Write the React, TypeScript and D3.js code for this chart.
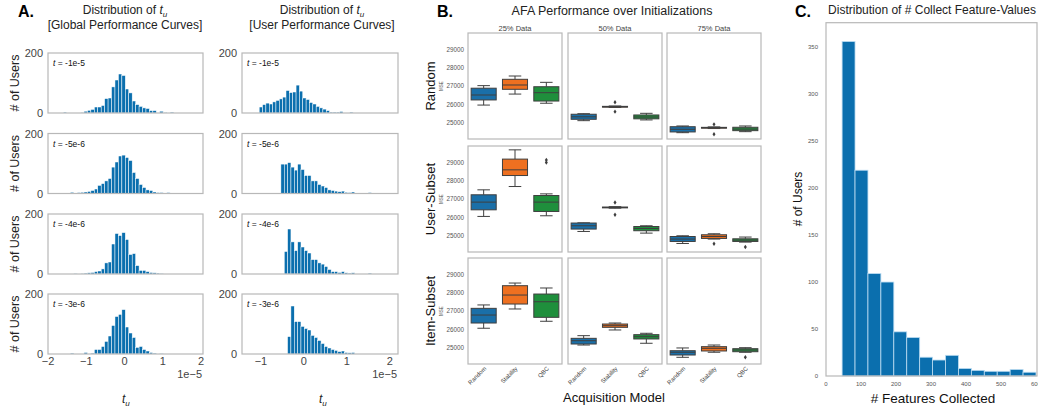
import * as React from "react";
import { range, scaleBand, scaleLinear } from "d3";

// ---- Panel A: distribution of t_u ----
const tLabels = ["-1e-5", "-5e-6", "-4e-6", "-3e-6"];

const globalStart = -1.6;
const globalBin = 0.09;
const globalCounts = [
  [3, 0, 0, 0, 0, 2, 6, 9, 12, 20, 20, 25, 48, 50, 87, 110, 130, 125, 80, 67, 40, 28, 22, 17, 15, 8, 8, 0, 6, 2, 0, 3],
  [0, 0, 4, 0, 3, 4, 5, 7, 10, 15, 27, 33, 42, 50, 88, 105, 125, 128, 120, 110, 70, 50, 30, 20, 12, 10, 5, 3, 3, 0, 3],
  [0, 0, 0, 2, 0, 2, 3, 4, 5, 8, 10, 17, 37, 40, 100, 135, 128, 138, 115, 65, 68, 28, 12, 12, 8, 5, 4, 3, 2],
  [0, 0, 3, 0, 0, 0, 5, 0, 3, 15, 15, 25, 42, 60, 95, 125, 132, 148, 90, 70, 55, 22, 25, 15, 10, 5, 3, 0, 2],
];

const userStarts = [-1.04, -0.535, -0.457, -0.38];
const userBin = 0.078;
const userCounts = [
  [20, 28, 33, 30, 37, 42, 47, 53, 75, 68, 70, 93, 73, 50, 45, 35, 30, 22, 17, 13, 8, 3, 3, 3, 5, 0, 0, 3],
  [98, 98, 103, 88, 78, 98, 80, 60, 60, 42, 42, 30, 25, 20, 12, 10, 8, 6, 8, 4, 3, 5, 0, 0, 0, 0, 3],
  [75, 150, 107, 78, 107, 90, 78, 70, 48, 48, 37, 33, 25, 15, 8, 8, 5, 8, 4, 3, 4, 0, 0, 0, 0, 3],
  [58, 160, 108, 108, 92, 85, 80, 62, 55, 45, 35, 25, 20, 15, 12, 8, 10, 5, 4, 5],
];

const globalTicks = [-2, -1, 0, 1, 2];
const userTicks = [-1, 0, 1, 2];

// ---- Panel B: AFA performance (lo, q1, median, q3, hi) ----
const initNames = ["Random", "User-Subset", "Item-Subset"];
const dataLabels = ["25% Data", "50% Data", "75% Data"];
const models = ["Random", "Stability", "QBC"];
const mseTicks = [25000, 26000, 27000, 28000, 29000];

const randomInitStats = [
  [[25960, 26240, 26510, 26880, 27020], [26560, 26820, 27055, 27365, 27545], [26060, 26180, 26635, 26960, 27200]],
  [[25110, 25185, 25320, 25460, 25490], [25830, 25850, 25870, 25890, 25910], [25150, 25210, 25310, 25420, 25510]],
  [[24455, 24495, 24640, 24780, 24820], [24680, 24700, 24725, 24745, 24770], [24510, 24565, 24650, 24750, 24820]],
];
const randomInitOutliers = [
  [[], [], []],
  [[], [26110, 25600], []],
  [[], [24910, 24370], []],
];

const userSubsetStats = [
  [[26050, 26410, 26830, 27230, 27500], [27680, 28280, 28590, 29175, 29680], [26085, 26320, 26830, 27190, 27280]],
  [[25230, 25360, 25540, 25690, 25700], [26500, 26520, 26540, 26560, 26580], [25140, 25270, 25390, 25500, 25540]],
  [[24575, 24685, 24815, 24955, 24995], [24815, 24850, 24955, 25050, 25105], [24650, 24685, 24760, 24830, 24925]],
];
const userSubsetOutliers = [
  [[], [], [28990, 29130]],
  [[], [26810, 26140], []],
  [[], [24560], [24380]],
];

const itemSubsetStats = [
  [[26060, 26345, 26780, 27145, 27330], [27110, 27380, 27870, 28380, 28525], [26440, 26655, 27505, 27925, 28255]],
  [[25145, 25200, 25380, 25510, 25655], [25965, 26110, 26200, 26290, 26345], [25240, 25475, 25600, 25710, 25785]],
  [[24475, 24600, 24750, 24835, 24985], [24750, 24820, 24965, 25055, 25145], [24750, 24780, 24875, 24945, 25000]],
];
const itemSubsetOutliers = [
  [[], [], []],
  [[], [], []],
  [[], [], [24475]],
];

// ---- Panel C: features collected ----
const featureCounts = [356, 219, 109, 100, 47, 41, 20, 17, 22, 8, 6, 5, 5, 7, 4];
const featureMin = 46;
const featureMax = 600;
const featureXTicks = [0, 100, 200, 300, 400, 500, 600];
const featureYTicks = [0, 50, 100, 150, 200, 250, 300, 350];

const FONT = "'Liberation Sans', Arial, sans-serif";
const HIST_BLUE = "#0b6fae";
const BOX_COLORS = ["#1a6fa8", "#ee7020", "#1f8f3c"];
const FRAME = "#b8b8b8";
const TICK = "#444";
const BOX_EDGE = "#3f3f3f";
const MINUS = "\u2212";

const PanelA = () => {
  const tops = [53, 133.5, 214, 294];
  const h = 60;
  const cols = [
    { left: 48, right: 203, domain: [-2.0, 2.05], ticks: globalTicks, title: "[Global Performance Curves]", center: 125 },
    { left: 242, right: 398, domain: [-1.44, 2.19], ticks: userTicks, title: "[User Performance Curves]", center: 322 },
  ];

  return (
    <g>
      <text x={18} y={17} fontSize={16} fontWeight="bold">A.</text>
      {cols.map((c, ci) => {
        const xs = scaleLinear().domain(c.domain).range([c.left, c.right]);
        return (
          <g key={ci}>
            <text x={c.center} y={14} fontSize={12} textAnchor="middle" fill="#222">
              Distribution of <tspan fontStyle="italic">t</tspan>
              <tspan fontStyle="italic" fontSize={8} dy={3}>u</tspan>
            </text>
            <text x={c.center} y={29} fontSize={12} textAnchor="middle" fill="#222">{c.title}</text>
            {tops.map((top, ri) => {
              const ys = scaleLinear().domain([0, 200]).range([top + h, top]);
              const counts = ci === 0 ? globalCounts[ri] : userCounts[ri];
              const start = ci === 0 ? globalStart : userStarts[ri];
              const bin = ci === 0 ? globalBin : userBin;
              return (
                <g key={ri}>
                  {counts.map((v, i) => {
                    if (v === 0) return null;
                    const x0 = xs(start + i * bin);
                    const x1 = xs(start + (i + 1) * bin);
                    return (
                      <rect key={i} x={x0} y={ys(v)} width={x1 - x0} height={ys(0) - ys(v)}
                        fill={HIST_BLUE} stroke="#ffffff" strokeWidth={0.5} />
                    );
                  })}
                  <rect x={c.left} y={top} width={c.right - c.left} height={h} fill="none" stroke={FRAME} strokeWidth={1.2} />
                  <text x={c.left - 5} y={ys(200) + 4} fontSize={11} textAnchor="end" fill={TICK}>200</text>
                  <text x={c.left - 5} y={ys(0) + 4} fontSize={11} textAnchor="end" fill={TICK}>0</text>
                  <text x={c.left + 5} y={top + 13} fontSize={8.5} fill="#111">
                    <tspan fontStyle="italic">t</tspan> = {tLabels[ri]}
                  </text>
                  {ci === 0 && (
                    <text transform={`translate(15,${top + h / 2}) rotate(-90)`} fontSize={12.5}
                      textAnchor="middle" dominantBaseline="central" fill="#222"># of Users</text>
                  )}
                </g>
              );
            })}
            {c.ticks.map((t) => (
              <text key={t} x={xs(t)} y={tops[3] + h + 11} fontSize={11} textAnchor="middle" fill={TICK}>
                {t < 0 ? `${MINUS}${-t}` : t}
              </text>
            ))}
            <text x={c.right - 1} y={378} fontSize={11} textAnchor="end" fill={TICK}>{`1e${MINUS}5`}</text>
            <text x={c.center - 3} y={403} fontSize={12} fill="#222" fontStyle="italic">
              t<tspan fontSize={8} dy={3}>u</tspan>
            </text>
          </g>
        );
      })}
    </g>
  );
};

const PanelB = () => {
  const colLefts = [468, 568, 667];
  const colW = 94;
  const rowTops = [33, 146, 258];
  const rowH = 106;
  const allStats = [randomInitStats, userSubsetStats, itemSubsetStats];
  const allOutliers = [randomInitOutliers, userSubsetOutliers, itemSubsetOutliers];

  return (
    <g>
      <text x={437} y={17} fontSize={16} fontWeight="bold">B.</text>
      <text x={612} y={15} fontSize={12.5} textAnchor="middle" fill="#222">AFA Performance over Initializations</text>
      {dataLabels.map((d, ci) => (
        <text key={d} x={colLefts[ci] + colW / 2} y={31} fontSize={7.5} textAnchor="middle" fill="#444">{d}</text>
      ))}
      {rowTops.map((top, ri) => {
        const ys = scaleLinear().domain([24110, 29890]).range([top + rowH, top]);
        return (
          <g key={ri}>
            <text transform={`translate(430,${top + rowH / 2}) rotate(-90)`} fontSize={13}
              textAnchor="middle" dominantBaseline="central" fill="#111">{initNames[ri]}</text>
            <text transform={`translate(441,${top + rowH / 2}) rotate(-90)`} fontSize={4.5}
              textAnchor="middle" dominantBaseline="central" fill="#555">MSE</text>
            {mseTicks.map((t) => (
              <text key={t} x={464} y={ys(t) + 2.2} fontSize={6.3} textAnchor="end" fill="#555">{t}</text>
            ))}
            {colLefts.map((left, ci) => {
              const xs = scaleBand().domain(models).range([left, left + colW]);
              const bw = xs.bandwidth() * 0.8;
              return (
                <g key={ci}>
                  {models.map((m, mi) => {
                    const [lo, q1, med, q3, hi] = allStats[ri][ci][mi];
                    const cx = (xs(m) as number) + xs.bandwidth() / 2;
                    const outs = allOutliers[ri][ci][mi];
                    return (
                      <g key={m} stroke={BOX_EDGE} strokeWidth={1}>
                        <line x1={cx} x2={cx} y1={ys(q3)} y2={ys(hi)} />
                        <line x1={cx} x2={cx} y1={ys(q1)} y2={ys(lo)} />
                        <line x1={cx - bw / 4} x2={cx + bw / 4} y1={ys(hi)} y2={ys(hi)} />
                        <line x1={cx - bw / 4} x2={cx + bw / 4} y1={ys(lo)} y2={ys(lo)} />
                        <rect x={cx - bw / 2} y={ys(q3)} width={bw} height={Math.max(ys(q1) - ys(q3), 0.8)}
                          fill={BOX_COLORS[mi]} />
                        <line x1={cx - bw / 2} x2={cx + bw / 2} y1={ys(med)} y2={ys(med)} />
                        {outs.map((o, oi) => (
                          <path key={oi} d={`M${cx},${ys(o) - 2.2}L${cx + 1.5},${ys(o)}L${cx},${ys(o) + 2.2}L${cx - 1.5},${ys(o)}Z`}
                            fill={BOX_EDGE} stroke="none" />
                        ))}
                      </g>
                    );
                  })}
                  <rect x={left} y={top} width={colW} height={rowH} fill="none" stroke={FRAME} strokeWidth={1.2} />
                  {ri === 2 && models.map((m) => {
                    const cx = (xs(m) as number) + xs.bandwidth() / 2;
                    return (
                      <text key={m} transform={`translate(${cx + 3},${top + rowH + 5}) rotate(-45)`}
                        fontSize={6} textAnchor="end" fill="#444">{m}</text>
                    );
                  })}
                </g>
              );
            })}
          </g>
        );
      })}
      <text x={614} y={402} fontSize={13} textAnchor="middle" fill="#111">Acquisition Model</text>
    </g>
  );
};

const PanelC = () => {
  const left = 826, right = 1037, top = 22.7, bottom = 376;
  const xs = scaleLinear().domain([0, 600]).range([left, 1036]);
  const ys = scaleLinear().domain([0, 376]).range([bottom, top]);
  const binW = (featureMax - featureMin) / featureCounts.length;
  return (
    <g>
      <text x={795} y={17} fontSize={16} fontWeight="bold">C.</text>
      <text x={932} y={14} fontSize={12} textAnchor="middle" fill="#222">Distribution of # Collect Feature-Values</text>
      {range(featureCounts.length).map((i) => {
        const x0 = xs(featureMin + i * binW);
        const x1 = xs(featureMin + (i + 1) * binW);
        const v = featureCounts[i];
        return (
          <rect key={i} x={x0} y={ys(v)} width={x1 - x0} height={ys(0) - ys(v)}
            fill={HIST_BLUE} stroke="#bcdcf2" strokeWidth={0.8} />
        );
      })}
      <rect x={left} y={top} width={right - left} height={bottom - top} fill="none" stroke={FRAME} strokeWidth={1.2} />
      {featureYTicks.map((t) => (
        <text key={t} x={818} y={ys(t) + 2} fontSize={6} textAnchor="end" fill="#555">{t}</text>
      ))}
      {featureXTicks.map((t) => (
        <text key={t} x={xs(t)} y={bottom + 10} fontSize={6} textAnchor="middle" fill="#555">{t}</text>
      ))}
      <text transform={`translate(798,199) rotate(-90)`} fontSize={12} textAnchor="middle"
        dominantBaseline="central" fill="#111"># of Users</text>
      <text x={933} y={403} fontSize={13.5} textAnchor="middle" fill="#111"># Features Collected</text>
    </g>
  );
};

export default function App() {
  return (
    <svg width={1038} height={408} style={{ position: "absolute", left: 0, top: 0, background: "#fff" }}
      fontFamily={FONT}>
      <rect width={1038} height={408} fill="#fff" />
      <PanelA />
      <PanelB />
      <PanelC />
    </svg>
  );
}
